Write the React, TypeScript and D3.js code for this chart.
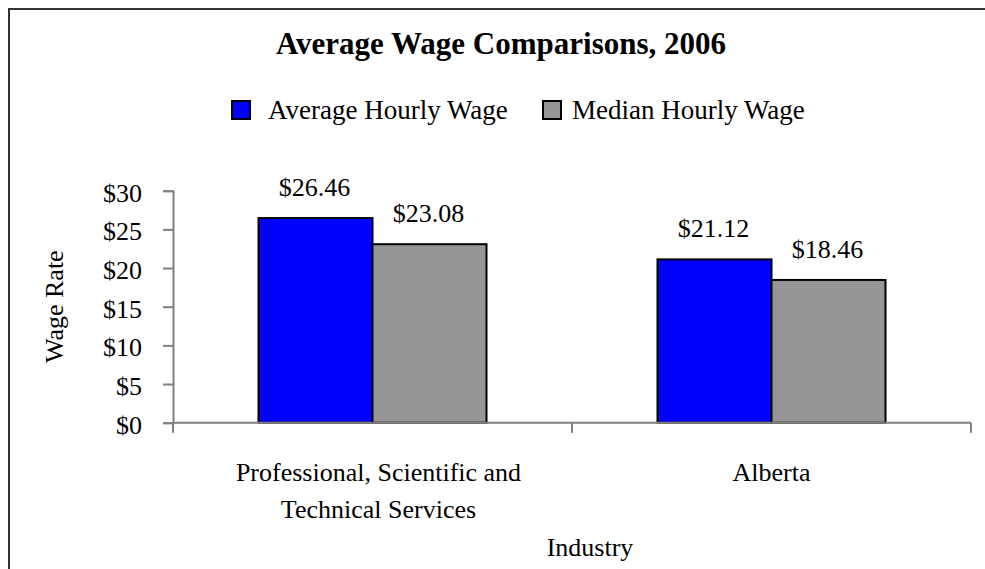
import React, { useEffect, useRef } from 'react';
import * as d3 from 'd3';

const categories = ['Professional, Scientific and Technical Services', 'Alberta'];
const categoryLines = [['Professional, Scientific and', 'Technical Services'], ['Alberta']];
const seriesNames = ['Average Hourly Wage', 'Median Hourly Wage'];
const averageWage = [26.46, 21.12];
const medianWage = [23.08, 18.46];
const yTicks = [0, 5, 10, 15, 20, 25, 30];

const COLORS = ['#0000FF', '#969696'];
const FONT = '"Liberation Serif", "Times New Roman", serif';
const W = 985;
const H = 569;

const App: React.FC = () => {
  const svgRef = useRef<SVGSVGElement>(null);

  useEffect(() => {
    if (!svgRef.current) return;
    document.body.style.margin = '0';

    const svg = d3.select(svgRef.current);
    svg.selectAll('*').remove();

    const plot = { left: 173, right: 971, top: 190.7, bottom: 422.7 };

    // chart frame (right/bottom edges run off the picture)
    svg.append('rect')
      .attr('x', 9).attr('y', 9)
      .attr('width', 1100).attr('height', 700)
      .attr('fill', 'white')
      .attr('stroke', '#333').attr('stroke-width', 2);

    const x = d3.scaleBand<string>()
      .domain(categories)
      .range([plot.left, plot.right]);

    const xInner = d3.scaleBand<string>()
      .domain(seriesNames)
      .range([0, x.bandwidth()])
      .paddingOuter(0.75)
      .paddingInner(0);

    const y = d3.scaleLinear().domain([0, 30]).range([plot.bottom, plot.top]);

    // title
    svg.append('text')
      .attr('x', 501).attr('y', 54)
      .attr('text-anchor', 'middle')
      .attr('font-family', FONT).attr('font-weight', 'bold').attr('font-size', 31)
      .text('Average Wage Comparisons, 2006');

    // legend
    const legendX = [232, 543];
    seriesNames.forEach((name, i) => {
      svg.append('rect')
        .attr('x', legendX[i]).attr('y', 101)
        .attr('width', 18).attr('height', 18)
        .attr('fill', COLORS[i]).attr('stroke', '#000').attr('stroke-width', 2);
      svg.append('text')
        .attr('x', legendX[i] + 36 - (i === 1 ? 7 : 0)).attr('y', 119)
        .attr('font-family', FONT).attr('font-size', 27)
        .text(name);
    });

    // y axis
    const yAxis = d3.axisLeft(y)
      .tickValues(yTicks)
      .tickSize(10)
      .tickPadding(21)
      .tickFormat(d => `$${d}`);

    const gy = svg.append('g')
      .attr('transform', `translate(${plot.left},0)`)
      .call(yAxis);
    gy.select('.domain').attr('stroke', '#808080').attr('stroke-width', 2);
    gy.selectAll('.tick line').attr('stroke', '#808080').attr('stroke-width', 2);
    gy.selectAll('.tick text')
      .attr('font-family', FONT).attr('font-size', 26).attr('fill', '#000')
      .attr('dy', '0.4em');

    // bars
    const series = [averageWage, medianWage];
    categories.forEach((cat, ci) => {
      seriesNames.forEach((name, si) => {
        const v = series[si][ci];
        const bx = (x(cat) || 0) + (xInner(name) || 0);
        svg.append('rect')
          .attr('x', bx).attr('y', y(v))
          .attr('width', xInner.bandwidth())
          .attr('height', y(0) - y(v))
          .attr('fill', COLORS[si])
          .attr('stroke', '#000').attr('stroke-width', 2);
        svg.append('text')
          .attr('x', bx + xInner.bandwidth() / 2 - 1)
          .attr('y', y(v) - 22)
          .attr('text-anchor', 'middle')
          .attr('font-family', FONT).attr('font-size', 26)
          .text(`$${v.toFixed(2)}`);
      });
    });

    // x axis with ticks on band boundaries
    svg.append('line')
      .attr('x1', plot.left).attr('x2', plot.right)
      .attr('y1', y(0)).attr('y2', y(0))
      .attr('stroke', '#808080').attr('stroke-width', 2);
    const bounds = [...categories.map(c => x(c) || 0), plot.right];
    bounds.forEach(b => {
      svg.append('line')
        .attr('x1', b).attr('x2', b)
        .attr('y1', y(0)).attr('y2', y(0) + 10)
        .attr('stroke', '#808080').attr('stroke-width', 2);
    });

    // category labels
    categories.forEach((cat, ci) => {
      const cx = (x(cat) || 0) + x.bandwidth() / 2 + (ci === 0 ? 6 : 0);
      categoryLines[ci].forEach((line, li) => {
        svg.append('text')
          .attr('x', cx).attr('y', 481 + li * 37)
          .attr('text-anchor', 'middle')
          .attr('font-family', FONT).attr('font-size', 26)
          .text(line);
      });
    });

    // axis titles
    svg.append('text')
      .attr('x', 590).attr('y', 556)
      .attr('text-anchor', 'middle')
      .attr('font-family', FONT).attr('font-size', 26)
      .text('Industry');

    svg.append('text')
      .attr('transform', `translate(63,${(plot.top + plot.bottom) / 2}) rotate(-90)`)
      .attr('text-anchor', 'middle')
      .attr('font-family', FONT).attr('font-size', 26)
      .text('Wage Rate');
  }, []);

  return (
    <svg
      ref={svgRef}
      width={W}
      height={H}
      style={{ display: 'block', position: 'absolute', left: 0, top: 0, background: '#fff' }}
    />
  );
};

export default App;
